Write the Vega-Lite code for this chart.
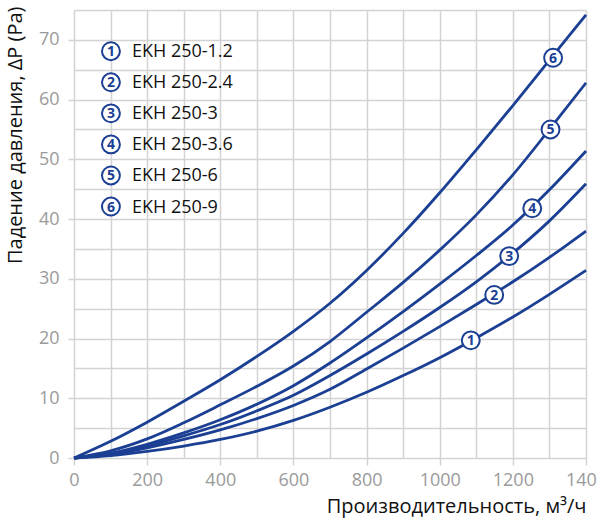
{
  "$schema": "https://vega.github.io/schema/vega-lite/v6.json",
  "description": "Pressure drop vs air flow for EKH 250 duct heaters",
  "width": 512,
  "height": 448,
  "autosize": {"type": "none"},
  "padding": {"left": 74, "top": 10, "right": 11, "bottom": 65},
  "background": "white",
  "config": {
    "view": {"stroke": null},
    "font": "Open Sans"
  },
  "datasets": {
    "curves": [
      {"series": "EKH 250-1.2", "Q": 0, "dP": 0},
      {"series": "EKH 250-1.2", "Q": 100, "dP": 0.4},
      {"series": "EKH 250-1.2", "Q": 200, "dP": 1.1},
      {"series": "EKH 250-1.2", "Q": 300, "dP": 2.0},
      {"series": "EKH 250-1.2", "Q": 400, "dP": 3.1},
      {"series": "EKH 250-1.2", "Q": 500, "dP": 4.5},
      {"series": "EKH 250-1.2", "Q": 600, "dP": 6.3},
      {"series": "EKH 250-1.2", "Q": 700, "dP": 8.5},
      {"series": "EKH 250-1.2", "Q": 800, "dP": 11.0},
      {"series": "EKH 250-1.2", "Q": 900, "dP": 13.8},
      {"series": "EKH 250-1.2", "Q": 1000, "dP": 16.8},
      {"series": "EKH 250-1.2", "Q": 1100, "dP": 20.1},
      {"series": "EKH 250-1.2", "Q": 1200, "dP": 23.6},
      {"series": "EKH 250-1.2", "Q": 1300, "dP": 27.4},
      {"series": "EKH 250-1.2", "Q": 1400, "dP": 31.4},
      {"series": "EKH 250-2.4", "Q": 0, "dP": 0},
      {"series": "EKH 250-2.4", "Q": 100, "dP": 0.6},
      {"series": "EKH 250-2.4", "Q": 200, "dP": 1.7},
      {"series": "EKH 250-2.4", "Q": 300, "dP": 3.1},
      {"series": "EKH 250-2.4", "Q": 400, "dP": 4.7},
      {"series": "EKH 250-2.4", "Q": 500, "dP": 6.6},
      {"series": "EKH 250-2.4", "Q": 600, "dP": 8.8},
      {"series": "EKH 250-2.4", "Q": 700, "dP": 11.5},
      {"series": "EKH 250-2.4", "Q": 800, "dP": 14.9},
      {"series": "EKH 250-2.4", "Q": 900, "dP": 18.4},
      {"series": "EKH 250-2.4", "Q": 1000, "dP": 22.0},
      {"series": "EKH 250-2.4", "Q": 1100, "dP": 25.7},
      {"series": "EKH 250-2.4", "Q": 1200, "dP": 29.5},
      {"series": "EKH 250-2.4", "Q": 1300, "dP": 33.6},
      {"series": "EKH 250-2.4", "Q": 1400, "dP": 38.0},
      {"series": "EKH 250-3", "Q": 0, "dP": 0},
      {"series": "EKH 250-3", "Q": 100, "dP": 0.7},
      {"series": "EKH 250-3", "Q": 200, "dP": 2.0},
      {"series": "EKH 250-3", "Q": 300, "dP": 3.7},
      {"series": "EKH 250-3", "Q": 400, "dP": 5.6},
      {"series": "EKH 250-3", "Q": 500, "dP": 7.9},
      {"series": "EKH 250-3", "Q": 600, "dP": 10.5},
      {"series": "EKH 250-3", "Q": 700, "dP": 13.8},
      {"series": "EKH 250-3", "Q": 800, "dP": 17.4},
      {"series": "EKH 250-3", "Q": 900, "dP": 21.2},
      {"series": "EKH 250-3", "Q": 1000, "dP": 25.2},
      {"series": "EKH 250-3", "Q": 1100, "dP": 29.5},
      {"series": "EKH 250-3", "Q": 1200, "dP": 34.3},
      {"series": "EKH 250-3", "Q": 1300, "dP": 39.7},
      {"series": "EKH 250-3", "Q": 1400, "dP": 45.9},
      {"series": "EKH 250-3.6", "Q": 0, "dP": 0},
      {"series": "EKH 250-3.6", "Q": 100, "dP": 0.8},
      {"series": "EKH 250-3.6", "Q": 200, "dP": 2.3},
      {"series": "EKH 250-3.6", "Q": 300, "dP": 4.2},
      {"series": "EKH 250-3.6", "Q": 400, "dP": 6.4},
      {"series": "EKH 250-3.6", "Q": 500, "dP": 9.0},
      {"series": "EKH 250-3.6", "Q": 600, "dP": 12.1},
      {"series": "EKH 250-3.6", "Q": 700, "dP": 15.9},
      {"series": "EKH 250-3.6", "Q": 800, "dP": 20.1},
      {"series": "EKH 250-3.6", "Q": 900, "dP": 24.5},
      {"series": "EKH 250-3.6", "Q": 1000, "dP": 29.1},
      {"series": "EKH 250-3.6", "Q": 1100, "dP": 33.9},
      {"series": "EKH 250-3.6", "Q": 1200, "dP": 39.0},
      {"series": "EKH 250-3.6", "Q": 1300, "dP": 44.9},
      {"series": "EKH 250-3.6", "Q": 1400, "dP": 51.4},
      {"series": "EKH 250-6", "Q": 0, "dP": 0},
      {"series": "EKH 250-6", "Q": 100, "dP": 1.2},
      {"series": "EKH 250-6", "Q": 200, "dP": 3.2},
      {"series": "EKH 250-6", "Q": 300, "dP": 5.9},
      {"series": "EKH 250-6", "Q": 400, "dP": 8.9},
      {"series": "EKH 250-6", "Q": 500, "dP": 12.0},
      {"series": "EKH 250-6", "Q": 600, "dP": 15.4},
      {"series": "EKH 250-6", "Q": 700, "dP": 19.5},
      {"series": "EKH 250-6", "Q": 800, "dP": 24.4},
      {"series": "EKH 250-6", "Q": 900, "dP": 29.4},
      {"series": "EKH 250-6", "Q": 1000, "dP": 34.8},
      {"series": "EKH 250-6", "Q": 1100, "dP": 40.7},
      {"series": "EKH 250-6", "Q": 1200, "dP": 47.4},
      {"series": "EKH 250-6", "Q": 1300, "dP": 55.0},
      {"series": "EKH 250-6", "Q": 1400, "dP": 62.8},
      {"series": "EKH 250-9", "Q": 0, "dP": 0},
      {"series": "EKH 250-9", "Q": 100, "dP": 2.8},
      {"series": "EKH 250-9", "Q": 200, "dP": 6.0},
      {"series": "EKH 250-9", "Q": 300, "dP": 9.5},
      {"series": "EKH 250-9", "Q": 400, "dP": 13.1},
      {"series": "EKH 250-9", "Q": 500, "dP": 17.0},
      {"series": "EKH 250-9", "Q": 600, "dP": 21.2},
      {"series": "EKH 250-9", "Q": 700, "dP": 25.9},
      {"series": "EKH 250-9", "Q": 800, "dP": 31.4},
      {"series": "EKH 250-9", "Q": 900, "dP": 37.6},
      {"series": "EKH 250-9", "Q": 1000, "dP": 44.4},
      {"series": "EKH 250-9", "Q": 1100, "dP": 51.6},
      {"series": "EKH 250-9", "Q": 1200, "dP": 59.0},
      {"series": "EKH 250-9", "Q": 1300, "dP": 66.6},
      {"series": "EKH 250-9", "Q": 1400, "dP": 74.2}
    ],
    "tags": [
      {"num": "1", "Q": 1085, "dP": 19.7},
      {"num": "2", "Q": 1149, "dP": 27.3},
      {"num": "3", "Q": 1190, "dP": 33.8},
      {"num": "4", "Q": 1253, "dP": 41.8},
      {"num": "5", "Q": 1303, "dP": 55.0},
      {"num": "6", "Q": 1310, "dP": 67.0}
    ],
    "legend": [
      {"num": "1", "name": "EKH 250-1.2", "Q": 101, "dP": 68.1},
      {"num": "2", "name": "EKH 250-2.4", "Q": 101, "dP": 62.9},
      {"num": "3", "name": "EKH 250-3", "Q": 101, "dP": 57.7},
      {"num": "4", "name": "EKH 250-3.6", "Q": 101, "dP": 52.5},
      {"num": "5", "name": "EKH 250-6", "Q": 101, "dP": 47.3},
      {"num": "6", "name": "EKH 250-9", "Q": 101, "dP": 42.1}
    ]
  },
  "encoding": {
    "x": {
      "field": "Q",
      "type": "quantitative",
      "scale": {"domain": [0, 1400], "nice": false},
      "axis": {
        "title": "Производительность, м³/ч",
        "values": [0, 100, 200, 300, 400, 500, 600, 700, 800, 900, 1000, 1100, 1200, 1300, 1400],
        "labelExpr": "datum.value % 200 === 0 ? datum.label : ''",
        "format": "d",
        "domain": false,
        "grid": true,
        "gridColor": "#d3d3d3",
        "gridWidth": 1.5,
        "tickColor": "#d3d3d3",
        "tickWidth": 1.5,
        "tickSize": 7,
        "tickOpacity": {"condition": {"test": "datum.value % 200 === 0", "value": 1}, "value": 0},
        "labelColor": "#9a9a9a",
        "labelFontSize": 18,
        "labelPadding": 6,
        "labelFlush": false,
        "labelOverlap": false,
        "titleFontSize": 20,
        "titleFontWeight": "normal",
        "titleColor": "#111111",
        "titleAnchor": "end",
        "titleAlign": "right",
        "titleBaseline": "alphabetic",
        "titleX": 512,
        "titleY": 54
      }
    },
    "y": {
      "field": "dP",
      "type": "quantitative",
      "scale": {"domain": [0, 75], "nice": false},
      "axis": {
        "title": "Падение давления, ΔP (Pa)",
        "values": [0, 5, 10, 15, 20, 25, 30, 35, 40, 45, 50, 55, 60, 65, 70, 75],
        "labelExpr": "datum.value % 10 === 0 ? datum.label : ''",
        "domain": false,
        "grid": true,
        "gridColor": "#d3d3d3",
        "gridWidth": 1.5,
        "tickColor": "#d3d3d3",
        "tickWidth": 1.5,
        "tickSize": 6,
        "tickOpacity": {"condition": {"test": "datum.value % 10 === 0", "value": 1}, "value": 0},
        "labelColor": "#9a9a9a",
        "labelFontSize": 18,
        "labelPadding": 9,
        "labelOverlap": false,
        "titleFontSize": 20,
        "titleFontWeight": "normal",
        "titleColor": "#111111",
        "titleAngle": -90,
        "titleAnchor": "end",
        "titleAlign": "right",
        "titleBaseline": "alphabetic",
        "titleX": -53,
        "titleY": -4
      }
    }
  },
  "layer": [
    {
      "data": {"name": "curves"},
      "mark": {"type": "line", "interpolate": "monotone", "strokeWidth": 2.8, "color": "#1b3f93"},
      "encoding": {
        "detail": {"field": "series", "type": "nominal"}
      }
    },
    {
      "data": {"name": "tags"},
      "mark": {"type": "point", "shape": "circle", "filled": true, "fill": "white", "stroke": "#1b3f93", "strokeWidth": 2, "size": 320, "opacity": 1}
    },
    {
      "data": {"name": "tags"},
      "mark": {"type": "text", "font": "Open Sans", "fontSize": 14, "fontWeight": "bold", "color": "#1b3f93", "baseline": "middle", "align": "center", "dy": 1},
      "encoding": {"text": {"field": "num"}}
    },
    {
      "data": {"name": "legend"},
      "mark": {"type": "point", "shape": "circle", "filled": true, "fill": "white", "stroke": "#1b3f93", "strokeWidth": 2, "size": 320, "opacity": 1}
    },
    {
      "data": {"name": "legend"},
      "mark": {"type": "text", "font": "Open Sans", "fontSize": 14, "fontWeight": "bold", "color": "#1b3f93", "baseline": "middle", "align": "center", "dy": 1},
      "encoding": {"text": {"field": "num"}}
    },
    {
      "data": {"name": "legend"},
      "mark": {"type": "text", "font": "Open Sans", "fontSize": 18, "color": "#111111", "baseline": "middle", "align": "left", "dx": 21, "dy": 1},
      "encoding": {"text": {"field": "name"}}
    }
  ]
}
